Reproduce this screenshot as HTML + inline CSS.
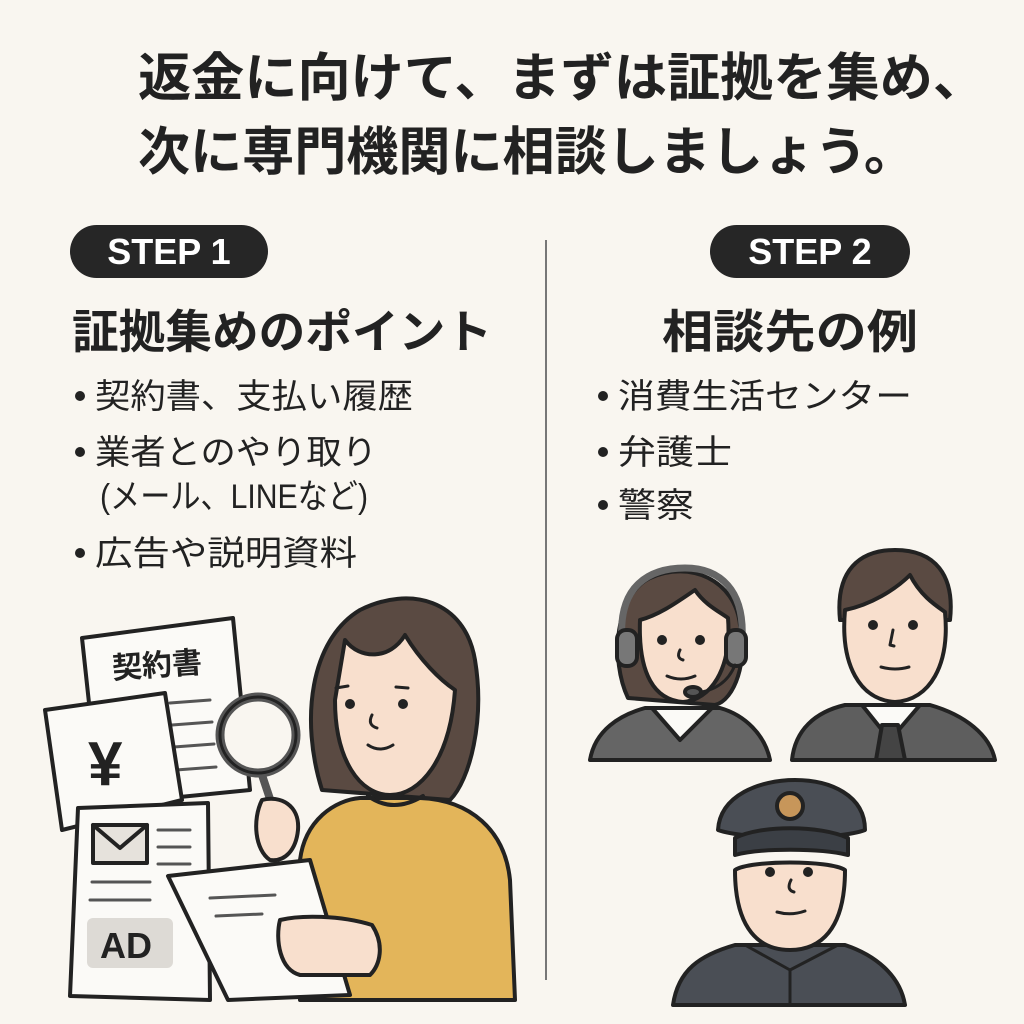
<!DOCTYPE html>
<html><head><meta charset="utf-8"><style>
html,body{margin:0;padding:0;background:#f9f6f0;}
svg{display:block}
text{font-family:"Liberation Sans","Noto Sans CJK JP",sans-serif;fill:#222;}
</style></head><body>
<svg width="1024" height="1024" viewBox="0 0 1024 1024" xmlns="http://www.w3.org/2000/svg">
<rect width="1024" height="1024" fill="#f9f6f0"/>
<text x="138" y="96" font-size="52" font-weight="bold" textLength="848" lengthAdjust="spacingAndGlyphs">返金に向けて、まずは証拠を集め、</text>
<text x="138" y="170" font-size="52" font-weight="bold" textLength="778" lengthAdjust="spacingAndGlyphs">次に専門機関に相談しましょう。</text>

<line x1="546" y1="240" x2="546" y2="980" stroke="#777" stroke-width="2"/>

<rect x="70" y="225" width="198" height="53" rx="26.5" fill="#262626"/>
<text x="169" y="264" font-size="36" font-weight="bold" text-anchor="middle" style="fill:#fff">STEP 1</text>
<rect x="710" y="225" width="200" height="53" rx="26.5" fill="#262626"/>
<text x="810" y="264" font-size="36" font-weight="bold" text-anchor="middle" style="fill:#fff">STEP 2</text>

<text x="72" y="348" font-size="46" font-weight="bold" textLength="420" lengthAdjust="spacingAndGlyphs">証拠集めのポイント</text>
<text x="662" y="348" font-size="46" font-weight="bold" textLength="256" lengthAdjust="spacingAndGlyphs">相談先の例</text>

<g font-size="34">
<circle cx="80" cy="396" r="5" fill="#222"/><text x="95" y="408" textLength="318" lengthAdjust="spacingAndGlyphs">契約書、支払い履歴</text>
<circle cx="80" cy="452" r="5" fill="#222"/><text x="95" y="464" textLength="282" lengthAdjust="spacingAndGlyphs">業者とのやり取り</text>
<text x="100" y="508" textLength="268" lengthAdjust="spacingAndGlyphs">(メール、LINEなど)</text>
<circle cx="80" cy="553" r="5" fill="#222"/><text x="95" y="565" textLength="262" lengthAdjust="spacingAndGlyphs">広告や説明資料</text>
<circle cx="603" cy="396" r="5" fill="#222"/><text x="618" y="408" textLength="294" lengthAdjust="spacingAndGlyphs">消費生活センター</text>
<circle cx="603" cy="452" r="5" fill="#222"/><text x="618" y="464" textLength="114" lengthAdjust="spacingAndGlyphs">弁護士</text>
<circle cx="603" cy="505" r="5" fill="#222"/><text x="618" y="517" textLength="76" lengthAdjust="spacingAndGlyphs">警察</text>
</g>

<!-- LEFT illustration -->
<g stroke="#222" stroke-width="4" stroke-linejoin="round" stroke-linecap="round">
<!-- contract doc -->
<polygon points="82,638 233,618 250,790 100,805" fill="#fbfaf7"/>
<text x="112" y="676" font-size="30" font-weight="bold" stroke="none" transform="rotate(-4 150 665)">契約書</text>
<g stroke="#555" stroke-width="3"><line x1="170" y1="703" x2="210" y2="700"/><line x1="172" y1="725" x2="212" y2="722"/><line x1="174" y1="747" x2="214" y2="744"/><line x1="176" y1="770" x2="216" y2="767"/></g>
<!-- yen doc -->
<polygon points="45,710 165,693 182,800 62,830" fill="#fbfaf7"/>
<text x="88" y="785" font-size="62" font-weight="bold" stroke="none">¥</text>
<!-- email doc -->
<polygon points="78,808 208,803 210,1000 70,996" fill="#fbfaf7"/>
<rect x="93" y="825" width="54" height="38" fill="#e6e2dc"/>
<polyline points="93,825 120,848 147,825" fill="none"/>
<g stroke="#555" stroke-width="3"><line x1="158" y1="830" x2="190" y2="830"/><line x1="158" y1="847" x2="190" y2="847"/><line x1="158" y1="864" x2="190" y2="864"/><line x1="92" y1="882" x2="150" y2="882"/><line x1="90" y1="900" x2="150" y2="900"/></g>
<rect x="87" y="918" width="86" height="50" rx="6" fill="#dddad5" stroke="none"/>
<text x="100" y="958" font-size="36" font-weight="bold" stroke="none">AD</text>
<!-- hair -->
<path d="M322,790 C300,720 310,640 360,610 C410,585 465,600 475,660 C485,720 470,780 450,800 Z" fill="#5a4a42"/>
<!-- sweater -->
<path d="M300,1000 L300,860 C305,820 335,800 360,798 L420,798 C470,800 505,830 510,880 L515,1000 Z" fill="#e3b55a"/>
<!-- face -->
<path d="M345,640 C360,660 390,660 405,635 C420,660 440,680 455,690 C450,760 420,795 390,795 C360,795 335,760 335,700 Z" fill="#f8dfcd"/>
<circle cx="350" cy="704" r="3" fill="#222"/><circle cx="403" cy="704" r="3" fill="#222"/>
<path d="M336,688 l12,-2 M396,687 l12,1" fill="none" stroke-width="3"/>
<path d="M372,715 q-5,10 5,13" fill="none" stroke-width="3"/>
<path d="M368,745 q12,8 25,0" fill="none" stroke-width="3"/>
<!-- neck -->
<path d="M368,796 q25,18 55,0" fill="none"/>
<!-- magnifier -->
<line x1="262" y1="775" x2="282" y2="835" stroke-width="8" stroke="#555"/>
<circle cx="258" cy="735" r="38" fill="#f9f6f0" stroke="#555" stroke-width="9"/>
<circle cx="258" cy="735" r="38" fill="none" stroke="#222" stroke-width="3"/>
<!-- hand holding magnifier -->
<path d="M262,800 C280,795 300,805 298,830 C296,850 285,862 270,860 C255,850 252,820 262,800 Z" fill="#f8dfcd"/>
<!-- paper in hand -->
<polygon points="168,876 310,860 350,995 228,1000" fill="#fbfaf7"/>
<g stroke="#555" stroke-width="3"><line x1="210" y1="898" x2="275" y2="895"/><line x1="216" y1="916" x2="262" y2="914"/></g>
<!-- hand on paper -->
<path d="M280,920 C300,915 340,915 372,925 C385,945 380,965 370,975 L300,975 C280,970 275,940 280,920 Z" fill="#f8dfcd"/>
</g>

<!-- RIGHT people -->
<g stroke="#222" stroke-width="4" stroke-linejoin="round" stroke-linecap="round">
<!-- headset woman -->
<path d="M590,760 C595,730 620,715 645,708 L720,708 C745,715 765,735 770,760 Z" fill="#656565"/>
<polygon points="652,708 680,740 712,708" fill="#fbfaf7"/>
<path d="M628,698 C610,660 615,595 650,578 C690,560 735,580 740,625 C748,660 735,700 715,705 Z" fill="#5a4a42"/>
<path d="M640,620 C660,615 680,600 695,590 C705,605 720,612 728,618 C732,670 710,700 683,702 C655,700 638,675 640,620 Z" fill="#f8dfcd"/>
<circle cx="662" cy="640" r="3" fill="#222"/><circle cx="700" cy="640" r="3" fill="#222"/>
<path d="M680,650 q-4,8 3,10" fill="none" stroke-width="3"/>
<path d="M667,676 q14,6 28,0" fill="none" stroke-width="3"/>
<path d="M622,640 C618,585 650,568 685,568 C720,568 745,590 742,640" fill="none" stroke="#666" stroke-width="7"/>
<rect x="617" y="630" width="20" height="36" rx="9" fill="#777"/>
<rect x="726" y="630" width="20" height="36" rx="9" fill="#777"/>
<path d="M735,665 q-10,25 -40,28" fill="none" stroke-width="3"/>
<ellipse cx="693" cy="692" rx="8" ry="5" fill="#555"/>
<!-- suit man -->
<path d="M792,760 C795,730 815,712 845,705 L930,705 C965,715 990,735 995,760 Z" fill="#5e5e5e"/>
<polygon points="862,705 890,740 920,705" fill="#fbfaf7"/>
<polygon points="882,725 898,725 905,760 876,760" fill="#444"/>
<path d="M840,620 C835,570 860,550 895,550 C935,550 955,575 950,620 Z" fill="#5a4a42"/>
<path d="M845,610 C870,605 895,590 910,575 C920,595 935,605 945,612 C950,665 930,700 895,702 C860,700 840,665 845,610 Z" fill="#f8dfcd"/>
<circle cx="873" cy="625" r="3" fill="#222"/><circle cx="913" cy="625" r="3" fill="#222"/>
<path d="M893,630 l-3,15 l4,1" fill="none" stroke-width="3"/>
<path d="M881,667 q14,4 28,0" fill="none" stroke-width="3"/>
<!-- police -->
<path d="M673,1005 C678,970 700,955 735,945 L845,945 C875,955 900,975 905,1005 Z" fill="#4a4e55"/>
<path d="M745,945 L790,970 L838,945" fill="none" stroke-width="3"/>
<line x1="790" y1="970" x2="790" y2="1005" stroke-width="3"/>
<path d="M735,870 C735,930 760,950 790,950 C820,950 845,930 845,870 C830,860 750,860 735,870 Z" fill="#f8dfcd"/>
<circle cx="770" cy="872" r="3" fill="#222"/><circle cx="808" cy="872" r="3" fill="#222"/>
<path d="M791,880 q-5,10 3,12" fill="none" stroke-width="3"/>
<path d="M777,912 q14,4 28,-1" fill="none" stroke-width="3"/>
<path d="M718,830 C720,795 760,780 795,780 C830,780 865,795 865,830 C840,840 745,840 718,830 Z" fill="#4a4e55"/>
<path d="M735,838 C760,825 820,825 848,838 L848,855 C820,848 760,848 735,855 Z" fill="#3b3f45"/>
<circle cx="790" cy="806" r="13" fill="#c7965a"/>
</g>
</svg>
</body></html>
